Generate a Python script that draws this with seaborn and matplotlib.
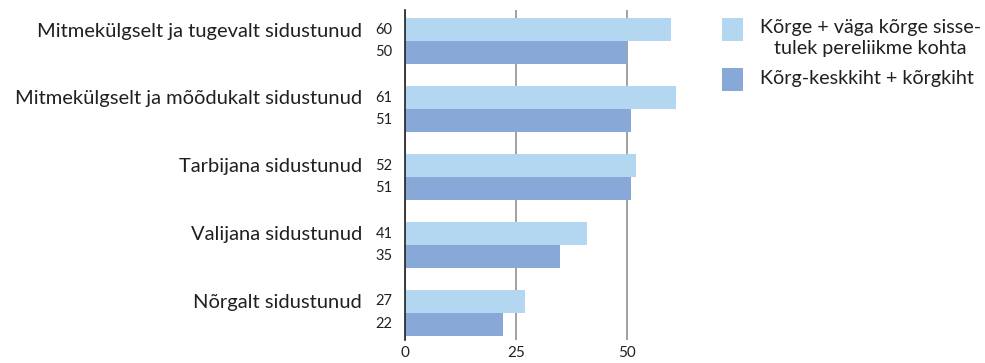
import pandas as pd
import seaborn as sns
import matplotlib.pyplot as plt
from matplotlib.patches import Rectangle

################################################################################
categories = [
    'Mitmekülgselt ja tugevalt sidustunud',
    'Mitmekülgselt ja mõõdukalt sidustunud',
    'Tarbijana sidustunud',
    'Valijana sidustunud',
    'Nõrgalt sidustunud',
]
series = ['Kõrge + väga kõrge sisse-\ntulek pereliikme kohta',
          'Kõrg-keskkiht + kõrgkiht']
income_high = [60, 61, 52, 41, 27]
upper_class = [50, 51, 51, 35, 22]
colors = ['#b3d7f0', '#88a9d8']

################################################################################
df = pd.DataFrame({
    'cat': categories * 2,
    'group': [series[0]] * 5 + [series[1]] * 5,
    'value': income_high + upper_class,
})

sns.set_style('white')
plt.rcParams['font.family'] = ['Lato', 'DejaVu Sans']
txt_color = '#231f20'

fig = plt.figure(figsize=(9.85, 3.63), dpi=100)
ax = fig.add_axes([405 / 985, 1 - 340 / 363, 275 / 985, 330 / 363])

sns.barplot(data=df, y='cat', x='value', hue='group', orient='h',
            palette=colors, width=0.67, saturation=1, linewidth=0,
            ax=ax, legend=False)

ax.set_xlim(0, 62)
ax.set_ylim(4.4, -0.456)
ax.set_xticks([0, 25, 50])
ax.set_xticklabels(['0', '25', '50'], fontsize=11, color=txt_color)
ax.tick_params(axis='x', length=0, pad=4)
ax.set_yticks([])
ax.set_xlabel('')
ax.set_ylabel('')
for s in ['top', 'right', 'bottom']:
    ax.spines[s].set_visible(False)
ax.spines['left'].set_color(txt_color)
ax.spines['left'].set_linewidth(1.2)
ax.grid(axis='x', color='#9a9a9a', linewidth=1.3)
ax.set_axisbelow(True)

# labels at left of the bars
for i, cat in enumerate(categories):
    y1 = i - 0.167
    y2 = i + 0.167
    ax.annotate(cat, xy=(0, y1), xycoords=('axes fraction', 'data'),
                xytext=(-31, -1), textcoords='offset points',
                ha='right', va='center', fontsize=14.5, color=txt_color)
    ax.annotate(str(income_high[i]), xy=(0, y1), xycoords=('axes fraction', 'data'),
                xytext=(-9, 0), textcoords='offset points',
                ha='right', va='center', fontsize=10.5, color=txt_color)
    ax.annotate(str(upper_class[i]), xy=(0, y2), xycoords=('axes fraction', 'data'),
                xytext=(-9, 0), textcoords='offset points',
                ha='right', va='center', fontsize=10.5, color=txt_color)

# legend, drawn by hand so the swatch sits at the first text line
W, H = 985, 363
swatch_top = [18, 68]
text_top = [19, 70]
for c, lab, st, tt in zip(colors, series, swatch_top, text_top):
    fig.add_artist(Rectangle((722 / W, 1 - (st + 23) / H), 21 / W, 23 / H,
                             transform=fig.transFigure, color=c, lw=0))
    fig.text(760 / W, 1 - tt / H, lab, ha='left', va='top', fontsize=14.2,
             color=txt_color, multialignment='center', linespacing=1.3)

plt.savefig('out.png', dpi=100)
